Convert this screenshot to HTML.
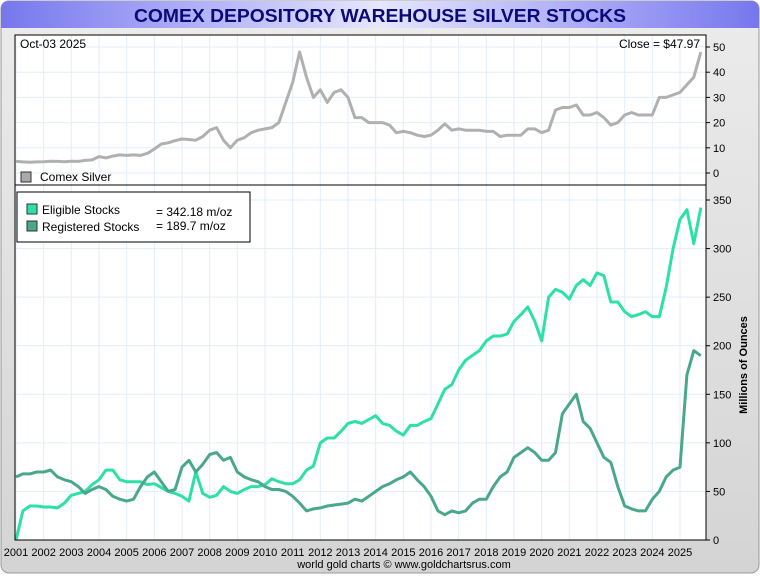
<!DOCTYPE html>
<html><head><meta charset="utf-8"><style>
body{margin:0;width:760px;height:575px;overflow:hidden;background:#fff;font-family:"Liberation Sans",sans-serif}
</style></head><body>
<svg id="c" width="760" height="575" xmlns="http://www.w3.org/2000/svg">
<defs>
<linearGradient id="tg" x1="0" x2="1" y1="0" y2="0"><stop offset="0" stop-color="#7777ee"/><stop offset="0.5" stop-color="#e6e6ff"/><stop offset="1" stop-color="#7777ee"/></linearGradient>
<linearGradient id="bg" x1="0" x2="0" y1="0" y2="1"><stop offset="0" stop-color="#ececec"/><stop offset="1" stop-color="#d4d4d4"/></linearGradient>
</defs>
<rect x="1" y="1" width="758" height="572" rx="8" fill="url(#bg)" stroke="#999"/>
<path d="M1,28 L1,9 Q1,1 9,1 L751,1 Q759,1 759,9 L759,28 Z" fill="url(#tg)"/>
<text x="380" y="22" text-anchor="middle" font-size="18" font-weight="bold" fill="#0a0a78" textLength="492" lengthAdjust="spacingAndGlyphs">COMEX DEPOSITORY WAREHOUSE SILVER STOCKS</text>
<rect x="15" y="35" width="691" height="505" fill="#fff" stroke="#000"/>
<g id="grid"></g>
<g id="marks"></g>
<line x1="15" y1="185" x2="706" y2="185" stroke="#000"/>
<rect x="15" y="35" width="691" height="505" fill="none" stroke="#000"/>
<text x="20" y="48" font-size="12">Oct-03  2025</text>
<text x="700" y="48" font-size="12" text-anchor="end">Close = $47.97</text>
<rect x="21" y="172" width="10" height="10" fill="#aaa" stroke="#333"/>
<text x="40" y="181" font-size="12">Comex Silver</text>
<g>
<rect x="17" y="192" width="233" height="50" fill="#fff" stroke="#000"/>
<rect x="27" y="204" width="10" height="10" fill="#2de0a7" stroke="#333"/>
<text x="42" y="214" font-size="12">Eligible Stocks</text>
<text x="156" y="216" font-size="12">= 342.18 m/oz</text>
<rect x="27" y="221" width="10" height="10" fill="#4aa88a" stroke="#333"/>
<text x="42" y="231" font-size="12">Registered Stocks</text>
<text x="156" y="230" font-size="12">= 189.7 m/oz</text>
</g>
<text transform="translate(747,365) rotate(-90)" text-anchor="middle" font-size="11" font-weight="bold">Millions of Ounces</text>
<text x="404" y="568" text-anchor="middle" font-size="11">world gold charts © www.goldchartsrus.com</text>
</svg>
<script>
const years=[2001,2002,2003,2004,2005,2006,2007,2008,2009,2010,2011,2012,2013,2014,2015,2016,2017,2018,2019,2020,2021,2022,2023,2024,2025];
const priceTicks=[0,10,20,30,40,50];
const stockTicks=[0,50,100,150,200,250,300,350];
const silver=[4.6,4.4,4.3,4.4,4.5,4.7,4.6,4.5,4.7,4.6,5.0,5.2,6.5,6.0,6.7,7.2,7.0,7.2,7.0,7.8,9.5,11.5,12,12.8,13.5,13.3,13,14.5,17,18,13,10,13,14,16,17,17.5,18,20,28,36,48,38,30,33,28,32,33,30,22,22,20,20,20,19,16,16.5,16,15,14.5,15,17,19.5,17,17.5,17,17,17,16.5,16.5,14.5,15,15,15,17.5,17.5,16,17,25,26,26,27,23,23,24,22,19,20,23,24,23,23,23,30,30,31,32,35,38,47.97];
const eligible=[0,30,35,35,34,34,33,38,46,48,50,57,62,72,72,62,60,60,60,57,58,54,50,48,45,40,70,48,44,46,55,50,48,52,55,55,57,63,60,58,58,62,72,76,100,105,105,112,120,122,120,124,128,120,118,112,108,118,118,122,125,140,155,160,175,185,190,195,205,210,210,212,225,232,240,225,205,250,258,255,248,262,268,262,275,272,245,245,235,230,232,235,230,230,260,300,330,340,305,342.18];
const registered=[65,68,68,70,70,72,65,62,60,55,48,52,55,52,45,42,40,42,55,65,70,60,50,52,75,82,70,78,88,90,82,85,70,65,62,60,55,52,52,50,45,38,30,32,33,35,36,37,38,42,40,45,50,55,58,62,65,70,62,55,45,30,26,30,28,30,38,42,42,55,65,70,85,90,95,90,82,82,90,130,140,150,122,115,100,85,80,55,35,32,30,30,42,50,65,72,75,170,195,189.7];

const NS="http://www.w3.org/2000/svg";
const X0=16,PX=(680-16)/24;
const xS=t=>X0+(t-2001)*PX;
const yP=v=>173-v*2.52;
const yS=v=>540-v*340/350;
const grid=document.getElementById('grid'),marks=document.getElementById('marks'),svg=document.getElementById('c');
function mk(tag,attrs,parent){const e=document.createElementNS(NS,tag);for(const k in attrs)e.setAttribute(k,attrs[k]);parent.appendChild(e);return e;}
years.forEach(y=>{
  const x=xS(y);
  const l=mk('line',{x1:x,x2:x,y1:35,y2:540,stroke:'#e2eef8'},grid);
  
  
  const t=mk('text',{x:x,y:556,'text-anchor':'middle','font-size':11},svg);
  t.textContent=y;
  
  
});
priceTicks.forEach(v=>{
  const y=yP(v);
  const l=mk('line',{x1:15,x2:706,y1:y,y2:y,stroke:'#e2eef8'},grid);
  
  
  mk('line',{x1:706,x2:710,y1:y,y2:y,stroke:'#000'},svg);
  const t=mk('text',{x:713,y:y+4,'font-size':11},svg);
  t.textContent=v;
  
  
});
stockTicks.forEach(v=>{
  const y=yS(v);
  const l=mk('line',{x1:15,x2:706,y1:y,y2:y,stroke:'#e2eef8'},grid);
  
  
  mk('line',{x1:706,x2:710,y1:y,y2:y,stroke:'#000'},svg);
  const t=mk('text',{x:713,y:y+4,'font-size':11},svg);
  t.textContent=v;
  
  
});
function line(arr,yf,color,name){
  const d=arr.map((v,i)=>(i?'L':'M')+xS(2001+i*0.25).toFixed(1)+','+yf(v).toFixed(1)).join(' ');
  const p=mk('path',{d:d,fill:'none',stroke:color,'stroke-width':3,'stroke-linejoin':'round'},marks);
  
  
}
line(silver,yP,'#b0b0b0','silver-price-line');
line(eligible,yS,'#2de0a7','eligible-stocks-line');
line(registered,yS,'#4aa88a','registered-stocks-line');
</script>
</body></html>
